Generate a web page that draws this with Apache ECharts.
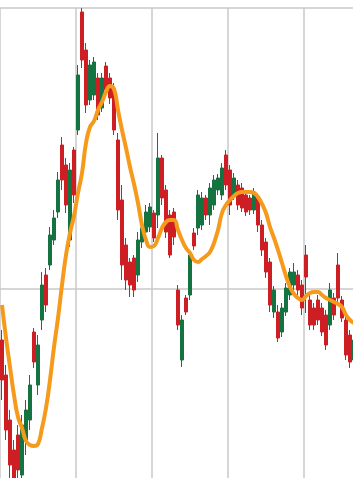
<!DOCTYPE html>
<html>
<head>
<meta charset="utf-8">
<script src="https://cdn.jsdelivr.net/npm/echarts@6/dist/echarts.min.js"></script>
<style>
html,body{margin:0;padding:0;background:#fff;}
#c{width:353px;height:478px;}
</style>
</head>
<body>
<div id="c"></div>
<script>
const days = ['1','2','3','4','5','6','7','8','9','10','11','12','13','14','15','16','17','18','19','20',
'21','22','23','24','25','26','27','28','29','30','31','32','33','34','35','36','37','38','39','40',
'41','42','43','44','45','46','47','48','49','50','51','52','53','54','55','56','57','58','59','60',
'61','62','63','64','65','66','67','68','69','70','71','72','73','74','75','76','77','78','79','80',
'81','82','83','84','85','86','87','88','89'];

const opens = [2146,2076,1986,1926,1956,1876,1946,1986,2162,2056,
2186,2276,2296,2346,2402,2536,2496,2346,2526,2566,
2802,2726,2626,2636,2670,2610,2694,2670,2646,2546,
2426,2336,2302,2310,2276,2342,2362,2372,2400,2396,
2510,2446,2396,2402,2246,2106,2230,2236,2360,2370,
2376,2430,2396,2416,2446,2436,2516,2486,2436,2456,
2450,2436,2430,2406,2430,2376,2342,2302,2202,2202,
2162,2202,2236,2256,2276,2256,2316,2226,2210,2226,
2210,2196,2176,2230,2296,2226,2186,2156,2106];

const closes = [2066,1966,1896,1870,1886,1976,2006,2056,2102,2136,
2256,2216,2356,2390,2466,2466,2416,2486,2436,2676,
2706,2616,2696,2702,2596,2670,2646,2630,2566,2406,
2296,2266,2256,2246,2346,2370,2402,2412,2350,2510,
2430,2362,2316,2352,2176,2186,2202,2316,2334,2436,
2430,2396,2450,2466,2470,2490,2456,2416,2470,2416,
2410,2402,2406,2442,2376,2326,2282,2216,2246,2150,
2210,2250,2282,2282,2246,2210,2272,2176,2176,2186,
2162,2136,2246,2196,2230,2190,2116,2102,2146];

const lows = [2026,1946,1856,1846,1856,1846,1916,1966,2090,2036,
2166,2202,2286,2336,2390,2446,2400,2332,2420,2556,
2690,2600,2616,2626,2586,2602,2636,2618,2556,2386,
2266,2246,2232,2232,2262,2330,2354,2362,2342,2370,
2416,2350,2310,2336,2166,2092,2196,2226,2326,2356,
2366,2386,2376,2406,2436,2426,2446,2396,2426,2406,
2402,2394,2396,2398,2362,2314,2270,2202,2190,2142,
2152,2194,2226,2246,2236,2196,2200,2166,2166,2176,
2154,2126,2166,2186,2216,2182,2106,2090,2092];

const highs = [2166,2096,2006,1946,1976,1996,2026,2076,2170,2156,
2282,2290,2372,2406,2482,2552,2510,2500,2532,2696,
2810,2740,2706,2712,2680,2680,2702,2680,2660,2560,
2456,2350,2310,2316,2362,2382,2416,2420,2406,2560,
2516,2456,2406,2410,2256,2196,2236,2326,2370,2446,
2442,2436,2460,2476,2478,2500,2526,2496,2480,2466,
2460,2446,2436,2450,2436,2386,2350,2310,2254,2216,
2220,2260,2290,2300,2286,2266,2336,2236,2220,2236,
2220,2206,2260,2240,2320,2234,2196,2166,2154];

const ma = [2216,2150,2092,2036,1992,1970,1944,1936,1934,1938,
1970,2010,2066,2132,2190,2256,2316,2360,2394,2440,
2480,2540,2572,2584,2606,2622,2642,2654,2648,2606,
2566,2530,2492,2458,2420,2376,2346,2332,2334,2350,
2370,2382,2386,2386,2366,2346,2330,2320,2306,2302,
2308,2314,2322,2340,2366,2400,2416,2426,2434,2440,
2442,2442,2442,2440,2432,2418,2400,2372,2350,2326,
2300,2274,2252,2238,2230,2226,2234,2240,2242,2242,
2236,2230,2226,2222,2218,2212,2196,2186,2180];

const kData = days.map((d, i) => [opens[i], closes[i], lows[i], highs[i]]);

const chart = echarts.init(document.getElementById('c'), null, {renderer: 'canvas'});
chart.setOption({
  animation: false,
  backgroundColor: '#ffffff',
  grid: {left: 0, top: 8, right: -3, bottom: -92, containLabel: false, outerBoundsMode: 'none'},
  xAxis: {
    type: 'category',
    data: days,
    boundaryGap: true,
    axisLine: {show: false},
    axisTick: {show: false, interval: 18},
    axisLabel: {show: false, interval: 18},
    splitLine: {show: true, interval: 18, lineStyle: {color: '#c8c8c8', width: 1.5}}
  },
  yAxis: {
    type: 'value',
    min: 1686, max: 2810, interval: 562,
    axisLine: {show: false},
    axisTick: {show: false},
    axisLabel: {show: false},
    splitLine: {show: true, lineStyle: {color: '#c8c8c8', width: 1.5}}
  },
  series: [
    {
      type: 'candlestick',
      data: kData,
      barWidth: '70%',
      itemStyle: {
        color: '#147341', color0: '#cd1e23',
        borderColor: '#147341', borderColor0: '#cd1e23', borderWidth: 1
      }
    },
    {
      type: 'line',
      data: ma,
      smooth: true,
      showSymbol: false,
      symbol: 'none',
      lineStyle: {color: '#f59a1b', width: 4}
    }
  ]
});
</script>
</body>
</html>
